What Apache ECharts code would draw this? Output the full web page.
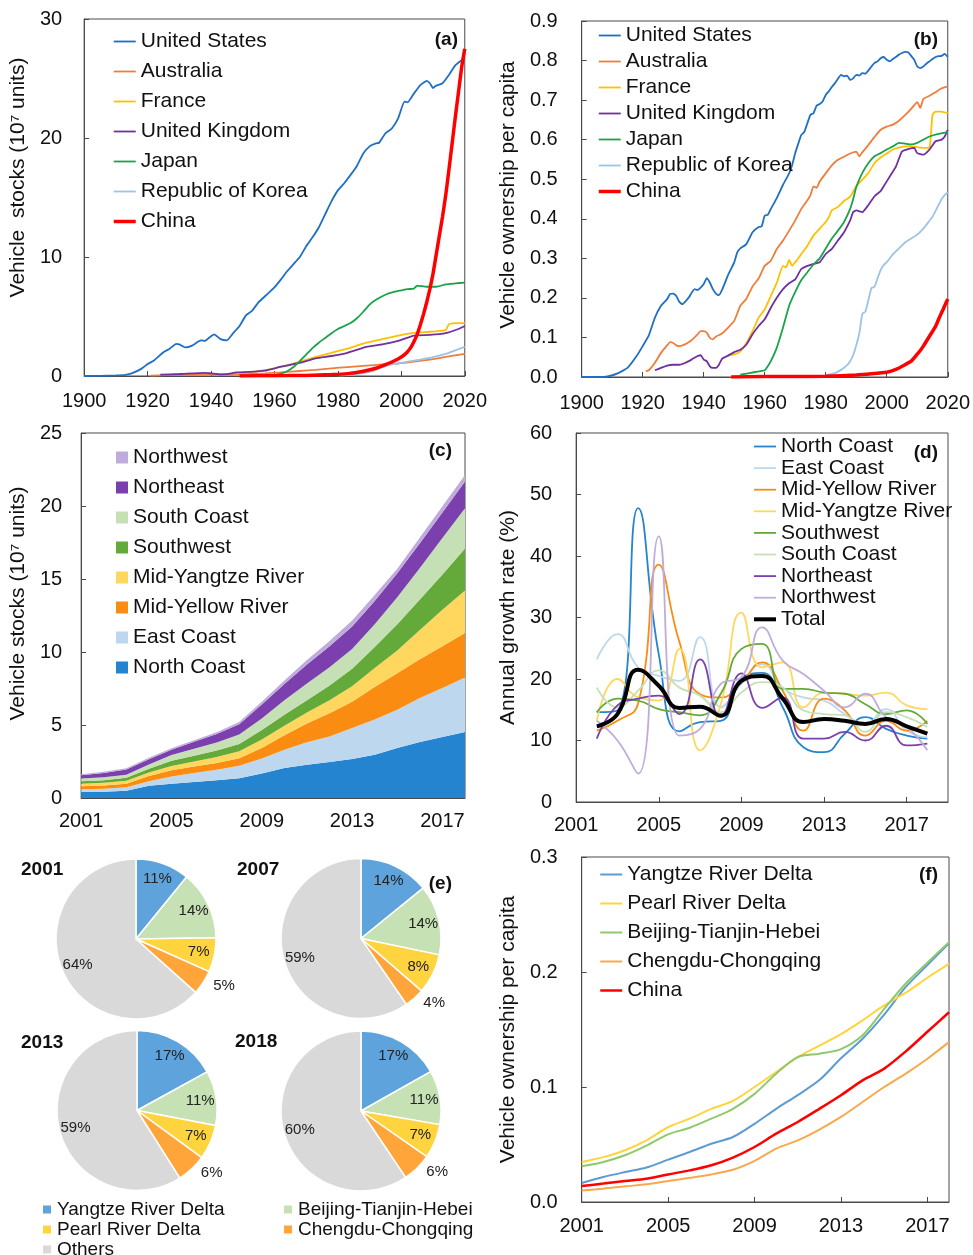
<!DOCTYPE html>
<html>
<head>
<meta charset="utf-8">
<script src="https://cdn.jsdelivr.net/npm/echarts/dist/echarts.min.js"></script>
<style>
html,body{margin:0;padding:0;background:#fff;}
#wrap{position:relative;width:973px;height:1255px;overflow:hidden;}
.panel{position:absolute;}
</style>
</head>
<body>
<div id="wrap">
  <div id="pa" class="panel" style="left:0;top:0;width:490px;height:420px"></div>
  <div id="pb" class="panel" style="left:490px;top:0;width:483px;height:420px"></div>
  <div id="pc" class="panel" style="left:0;top:420px;width:490px;height:420px"></div>
  <div id="pd" class="panel" style="left:490px;top:420px;width:483px;height:420px"></div>
  <div id="pe" class="panel" style="left:0;top:840px;width:490px;height:460px"></div>
  <div id="pf" class="panel" style="left:490px;top:840px;width:483px;height:415px"></div>
</div>
<script>
// ---------- (a) vehicle stocks, 10^7 units ----------
const countries = ['United States','Australia','France','United Kingdom','Japan','Republic of Korea','China'];
const stockUS = [[1900,0],[1905,0.01],[1910,0.05],[1913,0.1],[1915,0.22],[1918,0.6],[1920,1.0],[1922,1.3],[1925,2.0],[1927,2.3],[1929,2.7],[1930,2.65],[1932,2.4],[1934,2.55],[1936,2.9],[1937,3.0],[1938,2.95],[1940,3.35],[1941,3.5],[1943,3.1],[1945,3.0],[1947,3.6],[1949,4.2],[1951,5.1],[1953,5.5],[1955,6.2],[1957,6.7],[1959,7.2],[1960,7.45],[1962,8.1],[1964,8.8],[1966,9.4],[1968,10.0],[1970,10.9],[1972,11.65],[1974,12.5],[1976,13.6],[1978,14.7],[1980,15.6],[1982,16.2],[1984,16.9],[1986,17.65],[1988,18.7],[1990,19.3],[1992,19.55],[1993,19.6],[1995,20.4],[1997,20.8],[1999,21.65],[2001,23.05],[2002,23.0],[2004,23.75],[2006,24.45],[2008,24.8],[2009,24.6],[2010,24.2],[2011,24.4],[2013,24.6],[2015,25.3],[2017,26.1],[2019,26.55],[2020,26.8]];
const stockAU = [[1921,0.03],[1930,0.1],[1940,0.13],[1945,0.12],[1950,0.17],[1957,0.22],[1962,0.3],[1968,0.42],[1973,0.52],[1978,0.64],[1983,0.75],[1989,0.87],[1994,0.97],[1999,1.06],[2004,1.2],[2009,1.38],[2014,1.6],[2020,1.86]];
const stockFR = [[1948,0.22],[1952,0.3],[1956,0.45],[1960,0.65],[1964,0.9],[1968,1.2],[1973,1.6],[1978,1.95],[1983,2.3],[1989,2.8],[1994,3.1],[1999,3.4],[2004,3.62],[2009,3.72],[2014,3.85],[2015,4.35],[2018,4.45],[2020,4.45]];
const stockUK = [[1924,0.12],[1930,0.17],[1938,0.27],[1940,0.22],[1943,0.14],[1945,0.15],[1948,0.3],[1952,0.34],[1957,0.45],[1962,0.78],[1966,1.0],[1968,1.1],[1973,1.48],[1978,1.68],[1983,1.95],[1989,2.45],[1994,2.65],[1999,2.95],[2004,3.4],[2009,3.45],[2014,3.6],[2018,3.95],[2020,4.2]];
const stockJP = [[1960,0.1],[1962,0.2],[1964,0.4],[1966,0.75],[1968,1.25],[1970,1.8],[1972,2.35],[1974,2.8],[1976,3.2],[1978,3.6],[1980,3.95],[1982,4.2],[1984,4.45],[1986,4.85],[1988,5.4],[1990,6.0],[1992,6.4],[1994,6.7],[1996,6.95],[1998,7.1],[2000,7.2],[2002,7.3],[2004,7.35],[2005,7.6],[2008,7.5],[2011,7.5],[2014,7.7],[2017,7.78],[2020,7.85]];
const stockKR = [[1980,0.05],[1984,0.1],[1987,0.2],[1990,0.35],[1993,0.62],[1996,0.92],[1999,1.05],[2002,1.2],[2006,1.38],[2010,1.58],[2014,1.85],[2017,2.15],[2020,2.45]];
const stockCN = [[1949,0.005],[1960,0.02],[1970,0.05],[1978,0.12],[1983,0.2],[1988,0.4],[1992,0.65],[1995,0.95],[1998,1.3],[2000,1.6],[2001,1.8],[2002,2.05],[2003,2.4],[2004,2.9],[2005,3.5],[2006,4.3],[2007,5.2],[2008,6.2],[2009,7.3],[2010,8.6],[2011,10.2],[2012,11.8],[2013,13.4],[2014,15.2],[2015,17.3],[2016,19.5],[2017,21.7],[2018,23.8],[2019,25.9],[2020,27.5]];

// ---------- (b) vehicle ownership per capita ----------
const pcUS = [[1900,0],[1908,0.001],[1912,0.01],[1915,0.023],[1918,0.053],[1920,0.078],[1922,0.105],[1924,0.15],[1926,0.18],[1928,0.197],[1929,0.21],[1930,0.211],[1931,0.205],[1932,0.19],[1933,0.184],[1935,0.2],[1937,0.222],[1938,0.22],[1939,0.226],[1940,0.235],[1941,0.25],[1942,0.239],[1943,0.222],[1944,0.211],[1945,0.207],[1946,0.22],[1948,0.258],[1950,0.29],[1951,0.315],[1952,0.325],[1954,0.336],[1956,0.366],[1958,0.379],[1959,0.381],[1960,0.408],[1961,0.41],[1962,0.425],[1964,0.453],[1966,0.486],[1968,0.515],[1969,0.536],[1970,0.566],[1971,0.59],[1972,0.612],[1973,0.62],[1974,0.642],[1975,0.663],[1976,0.667],[1977,0.686],[1978,0.69],[1979,0.697],[1980,0.713],[1981,0.722],[1982,0.733],[1983,0.743],[1984,0.754],[1985,0.764],[1986,0.76],[1987,0.762],[1988,0.751],[1989,0.755],[1990,0.764],[1991,0.762],[1992,0.768],[1993,0.767],[1994,0.775],[1995,0.785],[1996,0.794],[1997,0.798],[1998,0.806],[1999,0.809],[2000,0.802],[2001,0.798],[2002,0.804],[2003,0.809],[2004,0.815],[2005,0.819],[2006,0.822],[2007,0.821],[2008,0.812],[2009,0.802],[2010,0.785],[2011,0.781],[2012,0.785],[2013,0.792],[2014,0.798],[2015,0.804],[2016,0.809],[2017,0.811],[2018,0.812],[2019,0.817],[2020,0.809]];
const pcAU = [[1921,0.014],[1922,0.017],[1924,0.036],[1926,0.061],[1928,0.08],[1929,0.088],[1930,0.086],[1931,0.08],[1932,0.078],[1934,0.083],[1936,0.093],[1938,0.108],[1939,0.116],[1940,0.116],[1941,0.112],[1942,0.099],[1943,0.095],[1944,0.102],[1946,0.11],[1948,0.125],[1950,0.142],[1952,0.18],[1954,0.198],[1956,0.229],[1958,0.249],[1960,0.281],[1962,0.294],[1964,0.324],[1966,0.345],[1968,0.37],[1970,0.396],[1972,0.425],[1974,0.447],[1975,0.46],[1976,0.482],[1977,0.478],[1978,0.494],[1980,0.515],[1982,0.535],[1984,0.549],[1986,0.557],[1988,0.565],[1990,0.57],[1991,0.558],[1992,0.568],[1994,0.587],[1996,0.607],[1998,0.625],[2000,0.633],[2002,0.638],[2004,0.648],[2006,0.662],[2008,0.678],[2010,0.695],[2011,0.68],[2012,0.703],[2014,0.711],[2016,0.72],[2018,0.73],[2020,0.735]];
const pcFR = [[1948,0.054],[1950,0.057],[1952,0.065],[1954,0.086],[1956,0.116],[1958,0.15],[1960,0.171],[1962,0.205],[1964,0.239],[1966,0.281],[1967,0.277],[1968,0.296],[1969,0.281],[1970,0.29],[1972,0.311],[1974,0.332],[1976,0.358],[1978,0.375],[1980,0.392],[1981,0.404],[1982,0.421],[1984,0.43],[1986,0.445],[1988,0.456],[1990,0.482],[1992,0.499],[1994,0.516],[1996,0.541],[1998,0.555],[2000,0.565],[2002,0.575],[2004,0.58],[2006,0.583],[2008,0.583],[2010,0.581],[2012,0.579],[2014,0.58],[2015,0.663],[2016,0.671],[2018,0.671],[2020,0.667]];
const pcUK = [[1924,0.017],[1926,0.023],[1928,0.029],[1930,0.031],[1932,0.031],[1934,0.036],[1936,0.044],[1938,0.053],[1939,0.055],[1940,0.044],[1941,0.04],[1942,0.027],[1943,0.023],[1944,0.023],[1945,0.031],[1946,0.046],[1948,0.054],[1950,0.063],[1952,0.069],[1954,0.082],[1956,0.108],[1958,0.129],[1960,0.146],[1962,0.175],[1964,0.201],[1966,0.222],[1968,0.237],[1970,0.247],[1972,0.273],[1974,0.281],[1976,0.286],[1978,0.29],[1980,0.311],[1982,0.324],[1984,0.345],[1986,0.366],[1988,0.396],[1989,0.417],[1990,0.421],[1992,0.417],[1994,0.435],[1996,0.457],[1998,0.47],[1999,0.482],[2001,0.507],[2003,0.532],[2005,0.57],[2007,0.576],[2009,0.579],[2010,0.566],[2012,0.562],[2014,0.575],[2016,0.596],[2018,0.6],[2019,0.608],[2020,0.625]];
const pcJP = [[1952,0.006],[1955,0.01],[1958,0.014],[1960,0.017],[1961,0.027],[1962,0.04],[1964,0.075],[1966,0.125],[1968,0.18],[1970,0.215],[1972,0.245],[1974,0.265],[1976,0.285],[1978,0.3],[1980,0.325],[1982,0.35],[1984,0.37],[1986,0.392],[1988,0.425],[1989,0.45],[1990,0.48],[1992,0.516],[1994,0.541],[1996,0.558],[1998,0.566],[2000,0.575],[2002,0.583],[2004,0.592],[2006,0.59],[2008,0.588],[2010,0.592],[2012,0.6],[2014,0.608],[2016,0.613],[2020,0.619]];
const pcKR = [[1980,0.005],[1983,0.01],[1985,0.018],[1987,0.03],[1988,0.04],[1989,0.055],[1990,0.08],[1991,0.11],[1992,0.16],[1993,0.165],[1994,0.195],[1995,0.225],[1996,0.228],[1997,0.25],[1998,0.27],[1999,0.283],[2000,0.29],[2002,0.31],[2004,0.325],[2006,0.34],[2008,0.35],[2010,0.36],[2012,0.375],[2014,0.395],[2015,0.405],[2016,0.42],[2017,0.435],[2018,0.45],[2019,0.46],[2020,0.467]];
const pcCN = [[1949,0],[1960,0.001],[1970,0.001],[1980,0.002],[1990,0.005],[1995,0.008],[2000,0.012],[2003,0.019],[2006,0.031],[2008,0.04],[2010,0.058],[2011,0.067],[2012,0.078],[2014,0.103],[2016,0.128],[2017,0.146],[2018,0.163],[2019,0.18],[2020,0.197]];

// ---------- (c) regional vehicle stocks 2001-2018, 10^7 units (stacked) ----------
const yearsC = ['2001','2002','2003','2004','2005','2006','2007','2008','2009','2010','2011','2012','2013','2014','2015','2016','2017','2018'];
const regions = ['North Coast','East Coast','Mid-Yellow River','Mid-Yangtze River','Southwest','South Coast','Northeast','Northwest'];
const stNorthCoast = [0.42,0.43,0.50,0.84,0.98,1.10,1.21,1.35,1.67,2.05,2.28,2.47,2.67,2.97,3.42,3.84,4.18,4.52];
const stEastCoast  = [0.18,0.21,0.24,0.30,0.50,0.61,0.73,0.86,1.03,1.26,1.53,1.75,2.12,2.40,2.63,3.01,3.35,3.74];
const stMidYellow  = [0.20,0.22,0.24,0.36,0.42,0.44,0.46,0.51,0.72,0.99,1.29,1.58,1.81,2.23,2.50,2.65,2.87,3.04];
const stMidYangtze = [0.17,0.18,0.20,0.24,0.30,0.35,0.40,0.48,0.58,0.65,0.75,0.90,1.05,1.30,1.55,2.00,2.50,2.92];
const stSouthwest  = [0.17,0.18,0.20,0.26,0.35,0.40,0.45,0.50,0.65,0.75,0.85,1.00,1.20,1.45,1.80,2.10,2.40,2.87];
const stSouthCoast = [0.19,0.20,0.22,0.30,0.40,0.48,0.55,0.65,0.80,1.00,1.15,1.25,1.35,1.55,1.85,2.15,2.50,2.75];
const stNortheast  = [0.23,0.30,0.36,0.36,0.35,0.47,0.58,0.70,0.95,1.10,1.30,1.45,1.55,1.60,1.65,1.70,1.75,1.83];
const stNorthwest  = [0.06,0.07,0.08,0.09,0.10,0.11,0.12,0.15,0.20,0.25,0.30,0.35,0.40,0.40,0.30,0.40,0.43,0.46];

// ---------- (d) annual growth rate (%), 2002-2018 ----------
const yearsD = ['2001','2002','2003','2004','2005','2006','2007','2008','2009','2010','2011','2012','2013','2014','2015','2016','2017','2018','2019'];
const grNorthCoast = [14.6,14.9,47.8,24.0,11.5,13.0,13.2,20.0,21.0,15.4,8.9,8.1,11.1,13.8,11.9,10.8,10.3];
const grEastCoast  = [23.2,27.3,21.9,20.5,19.7,26.8,15.4,19.2,22.4,18.6,17.0,16.5,14.3,12.7,15.1,11.6,10.5];
const grMidYellow  = [11.6,13.2,16.0,38.6,26.0,17.5,17.0,19.5,22.7,18.1,11.6,16.8,14.9,10.8,13.2,11.6,13.2];
const grMidYangtze = [13.2,20.0,17.0,16.5,24.9,8.4,15.9,30.8,21.9,22.7,15.4,17.8,17.6,17.3,17.8,15.7,15.1];
const grSouthwest  = [14.6,16.8,16.5,15.1,14.6,14.1,17.6,24.9,25.7,18.4,18.4,17.8,17.6,15.9,14.3,14.9,12.7];
const grSouthCoast = [18.6,15.4,18.1,21.4,18.6,17.3,14.6,17.8,19.5,18.6,14.9,14.3,14.1,11.4,14.6,13.8,12.2];
const grNortheast  = [10.3,15.7,16.8,17.3,14.3,23.2,13.8,20.9,15.3,17.0,10.3,10.3,11.4,10.0,12.4,9.2,9.5];
const grNorthwest  = [13.2,10.0,4.6,43.2,10.8,11.9,19.2,20.3,28.4,23.0,20.8,18.1,15.4,17.6,13.8,12.2,8.4];
const grTotal      = [12.3,14.3,21.5,18.9,15.3,15.5,14.05,19.7,20.5,16.8,13.0,13.5,13.2,12.7,13.5,12.3,11.1];

// ---------- (e) shares of urban agglomerations (%) ----------
const clusters = ['Yangtze River Delta','Beijing-Tianjin-Hebei','Pearl River Delta','Chengdu-Chongqing','Others'];
const share2001 = [11,14,7,5,64];
const share2007 = [14,14,8,4,59];
const share2013 = [17,11,7,6,59];
const share2018 = [17,11,7,6,60];

// ---------- (f) vehicle ownership per capita, 2001-2018 ----------
const yearsF = yearsC;
const agglomF = ['Yangtze River Delta','Pearl River Delta','Beijing-Tianjin-Hebei','Chengdu-Chongqing','China'];
const pcYRD = [0.0165,0.0217,0.026,0.030,0.0368,0.0435,0.0507,0.0565,0.068,0.081,0.093,0.106,0.125,0.142,0.163,0.187,0.206,0.225];
const pcPRD = [0.0348,0.039,0.045,0.0536,0.065,0.0725,0.081,0.088,0.100,0.113,0.126,0.136,0.146,0.158,0.171,0.182,0.195,0.207];
const pcBTH = [0.031,0.0348,0.0406,0.049,0.0588,0.0646,0.0725,0.081,0.094,0.1116,0.126,0.129,0.133,0.145,0.168,0.190,0.208,0.226];
const pcCC  = [0.0101,0.0116,0.0136,0.0154,0.0183,0.021,0.024,0.028,0.0357,0.0464,0.0536,0.063,0.074,0.087,0.100,0.1116,0.1246,0.139];
const pcCNf = [0.0139,0.016,0.0183,0.0203,0.024,0.0275,0.0319,0.0386,0.0478,0.0594,0.0696,0.081,0.0928,0.1058,0.116,0.131,0.148,0.165];

// ---------- shared styling ----------
const FONT = "'Liberation Sans', Arial, Helvetica, sans-serif";
const AX = '#4a4a4a';
const TXT = '#111111';
const countryColors = ['#1f6fc5','#f07d3a','#ffc000','#7030a0','#1ba34a','#9dc3e6','#ff0000'];
const regionColors = ['#2484cf','#bdd7ee','#fb8c12','#ffd75e','#64aa3a','#c5e0b4','#7c3fae','#c0acdc'];
const clusterColors = ['#5ea3dc','#c6e2b5','#ffd43f','#ffa53a','#d9d9d9'];
const fColors = ['#5b9bd5','#ffd43b','#8fc96a','#f8a84d','#ff0000'];

function valueAxis(o) {
  return {
    type: 'value', min: o.min, max: o.max, interval: o.interval,
    name: o.name || '', nameLocation: 'middle', nameGap: o.nameGap || 0,
    nameTextStyle: {fontSize: 21, color: TXT, fontFamily: FONT, padding: o.namePad || 0},
    axisLine: {show: true, onZero: false, lineStyle: {color: AX, width: 1}},
    axisTick: {show: true, inside: true, length: 5, lineStyle: {color: AX}},
    axisLabel: {fontSize: 20, color: TXT, fontFamily: FONT, margin: o.margin, formatter: o.fmt},
    splitLine: {show: false}
  };
}
function categoryAxis(cats, margin) {
  return {
    type: 'category', data: cats, boundaryGap: false,
    axisLine: {show: true, onZero: false, lineStyle: {color: AX, width: 1}},
    axisTick: {show: true, inside: true, length: 5, interval: 3, lineStyle: {color: AX}},
    axisLabel: {fontSize: 20, color: TXT, fontFamily: FONT, margin: margin, interval: 3},
    splitLine: {show: false}
  };
}
function lineSeries(name, data, color, width, smooth) {
  return {
    type: 'line', name: name, data: data, symbol: 'none', smooth: smooth || false,
    lineStyle: {color: color, width: width}, itemStyle: {color: color},
    emphasis: {disabled: true}, connectNulls: false
  };
}
// line-only legend keys: a 1px icon box keeps the marker dot invisible;
// `widths` gives the key stroke for each entry
function lineLegend(names, widths, left, top, gap) {
  return {
    orient: 'vertical', left: left, top: top, itemWidth: 22, itemHeight: 1, itemGap: gap,
    selectedMode: false,
    data: names.map((n, i) => ({name: n, lineStyle: {width: widths[i]}})),
    textStyle: {fontSize: 21, lineHeight: 21, color: TXT, fontFamily: FONT}
  };
}
function panelTag(text, x, y) {
  return {type: 'text', x: x, y: y, silent: true,
    style: {text: text, align: 'right', textAlign: 'right', verticalAlign: 'middle', textVerticalAlign: 'middle',
      font: 'bold 19px ' + FONT, fill: TXT}};
}
const gridBox = {show: true, borderColor: AX, borderWidth: 1, backgroundColor: 'transparent'};
const fmt1 = v => v.toFixed(1);
const fmtYear = v => String(v);
const countryWidths = countries.map(c => c === 'China' ? 3.5 : 1.8);

// ---------- (a) ----------
const chartA = echarts.init(document.getElementById('pa'));
const stockSets = [stockUS, stockAU, stockFR, stockUK, stockJP, stockKR, stockCN];
chartA.setOption({
  animation: false,
  textStyle: {fontFamily: FONT},
  grid: Object.assign({left: 84, top: 19, right: 24, bottom: 44}, gridBox),
  xAxis: valueAxis({min: 1900, max: 2020, interval: 20, margin: 15, fmt: fmtYear}),
  yAxis: valueAxis({min: 0, max: 30, interval: 10, margin: 22, name: 'Vehicle  stocks (10\u2077 units)', nameGap: 52, namePad: [0, 0, 0, 40]}),
  legend: lineLegend(countries, countryWidths, 107, 26, 9),
  graphic: [panelTag('(a)', 458, 40)],
  series: countries.map((c, i) => lineSeries(c, stockSets[i], countryColors[i], countryWidths[i], 0.15))
});

// ---------- (b) ----------
const chartB = echarts.init(document.getElementById('pb'));
const pcSets = [pcUS, pcAU, pcFR, pcUK, pcJP, pcKR, pcCN];
chartB.setOption({
  animation: false,
  textStyle: {fontFamily: FONT},
  grid: Object.assign({left: 88, top: 21, right: 25, bottom: 43}, gridBox),
  xAxis: valueAxis({min: 1900, max: 2020, interval: 20, margin: 16, fmt: fmtYear}),
  yAxis: valueAxis({min: 0, max: 0.9, interval: 0.1, margin: 24, fmt: fmt1, name: 'Vehicle ownership per capita', nameGap: 62, namePad: [0, 0, 0, 8]}),
  legend: lineLegend(countries, countryWidths, 102, 20, 5),
  graphic: [panelTag('(b)', 448, 40)],
  series: countries.map((c, i) => lineSeries(c, pcSets[i], countryColors[i], countryWidths[i], 0.15))
});

// ---------- (c) ----------
const chartC = echarts.init(document.getElementById('pc'));
const stackSets = [stNorthCoast, stEastCoast, stMidYellow, stMidYangtze, stSouthwest, stSouthCoast, stNortheast, stNorthwest];
chartC.setOption({
  animation: false,
  textStyle: {fontFamily: FONT},
  grid: Object.assign({left: 79, top: 13, right: 25, bottom: 42}, gridBox),
  xAxis: categoryAxis(yearsC, 13),
  yAxis: valueAxis({min: 0, max: 25, interval: 5, margin: 19, name: 'Vehicle stocks (10\u2077 units)', nameGap: 47, namePad: [0, 0, 0, 24]}),
  legend: {
    orient: 'vertical', left: 111, top: 22, itemWidth: 12, itemHeight: 12, itemGap: 9, icon: 'rect',
    selectedMode: false, data: regions.slice().reverse(),
    textStyle: {fontSize: 21, lineHeight: 21, color: TXT, fontFamily: FONT}
  },
  graphic: [panelTag('(c)', 452, 31)],
  series: regions.map((r, i) => ({
    type: 'line', name: r, data: stackSets[i], stack: 'stock', symbol: 'none',
    lineStyle: {width: 0}, itemStyle: {color: regionColors[i]},
    areaStyle: {color: regionColors[i], opacity: 1}, emphasis: {disabled: true}
  }))
});

// ---------- (d) ----------
const chartD = echarts.init(document.getElementById('pd'));
const growthSets = [grNorthCoast, grEastCoast, grMidYellow, grMidYangtze, grSouthwest, grSouthCoast, grNortheast, grNorthwest];
const pad = arr => [null].concat(arr, [null]);
const dNames = regions.concat(['Total']);
const dWidths = dNames.map(n => n === 'Total' ? 4 : 1.8);
const dSeries = regions.map((r, i) => lineSeries(r, pad(growthSets[i]), regionColors[i], 1.8, 0.5));
dSeries.push(lineSeries('Total', pad(grTotal), '#000000', 4, 0.5));
chartD.setOption({
  animation: false,
  textStyle: {fontFamily: FONT},
  grid: Object.assign({left: 76, top: 13, right: 25, bottom: 38}, gridBox),
  xAxis: categoryAxis(yearsD, 13),
  yAxis: valueAxis({min: 0, max: 60, interval: 10, margin: 24, name: 'Annual growth rate (%)', nameGap: 51}),
  legend: lineLegend(dNames, dWidths, 257, 11, 0.6),
  graphic: [panelTag('(d)', 448, 33)],
  series: dSeries
});

// ---------- (e) ----------
const chartE = echarts.init(document.getElementById('pe'));
const pieDefs = [
  {year: '2001', vals: share2001, c: [136, 99], t: [21, 30]},
  {year: '2007', vals: share2007, c: [361, 98.5], t: [237, 30]},
  {year: '2013', vals: share2013, c: [137, 270.5], t: [21, 203]},
  {year: '2018', vals: share2018, c: [361, 271], t: [235, 202]}
];
const eSeries = [];
pieDefs.forEach(p => {
  // coloured slices
  eSeries.push({
    type: 'pie', center: p.c, radius: [0, 80], startAngle: 90, clockwise: true, silent: true,
    label: {show: false}, labelLine: {show: false},
    itemStyle: {borderColor: '#ffffff', borderWidth: 1.5},
    data: clusters.map((n, i) => ({name: n, value: p.vals[i], itemStyle: {color: clusterColors[i]}}))
  });
  // transparent ring that carries the percentage labels
  eSeries.push({
    type: 'pie', center: p.c, radius: [42, 80], startAngle: 90, clockwise: true, silent: true,
    avoidLabelOverlap: false,
    itemStyle: {color: 'rgba(0,0,0,0)', borderWidth: 0},
    label: {show: true, position: 'inside', formatter: '{c}%', fontSize: 15, color: '#222', fontFamily: FONT},
    labelLine: {show: false, length: 6, length2: 0},
    data: clusters.map((n, i) => i === 3
      ? {name: n, value: p.vals[i], label: {position: 'outside'}}
      : {name: n, value: p.vals[i]})
  });
});
const pieLegendBase = {
  orient: 'vertical', top: 355, itemWidth: 10, itemHeight: 10, itemGap: 1, icon: 'rect', selectedMode: false,
  textStyle: {fontSize: 19, lineHeight: 19, color: TXT, fontFamily: FONT}
};
chartE.setOption({
  animation: false,
  textStyle: {fontFamily: FONT},
  legend: [
    Object.assign({left: 36, data: [clusters[0], clusters[2], clusters[4]]}, pieLegendBase),
    Object.assign({left: 277, data: [clusters[1], clusters[3]]}, pieLegendBase)
  ],
  graphic: pieDefs.map(p => ({type: 'text', x: p.t[0], y: p.t[1], silent: true,
      style: {text: p.year, verticalAlign: 'middle', textVerticalAlign: 'middle', font: 'bold 19px ' + FONT, fill: TXT}}))
    .concat([panelTag('(e)', 452, 44)]),
  series: eSeries
});

// ---------- (f) ----------
const chartF = echarts.init(document.getElementById('pf'));
const fSets = [pcYRD, pcPRD, pcBTH, pcCC, pcCNf];
const fWidths = agglomF.map(n => n === 'China' ? 2.5 : 2);
chartF.setOption({
  animation: false,
  textStyle: {fontFamily: FONT},
  grid: Object.assign({left: 88, top: 17, right: 24, bottom: 53}, gridBox),
  xAxis: categoryAxis(yearsF, 14),
  yAxis: valueAxis({min: 0, max: 0.3, interval: 0.1, margin: 24, fmt: fmt1, name: 'Vehicle ownership per capita', nameGap: 60}),
  legend: lineLegend(agglomF, fWidths, 104, 19, 8),
  graphic: [panelTag('(f)', 448, 35)],
  series: agglomF.map((n, i) => lineSeries(n, fSets[i], fColors[i], fWidths[i], 0.3))
});
</script>
</body>
</html>
